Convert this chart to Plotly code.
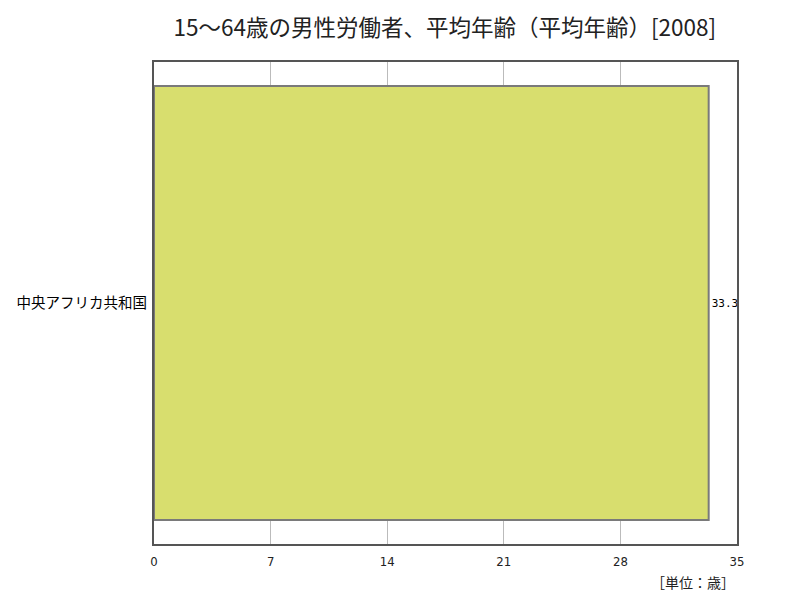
import plotly.graph_objects as go

countries = ["中央アフリカ共和国"]
values = [33.3]
tick_vals = [0, 7, 14, 21, 28, 35]

fig = go.Figure(go.Bar(
    x=values,
    y=countries,
    orientation="h",
    marker=dict(color="#d8de6e", line=dict(color="#7a7a7a", width=2)),
    text=[f"{v:.1f}" for v in values],
    textposition="outside",
    textfont=dict(family="DejaVu Sans Mono", size=11, color="black"),
    cliponaxis=True,
    hoverinfo="x+y",
))

# page body adds ~8px offset, so margins are shifted to compensate
fig.update_layout(
    width=800, height=600,
    margin=dict(l=146, r=71, t=54, b=64),
    paper_bgcolor="white",
    plot_bgcolor="white",
    bargap=0.1,
    showlegend=False,
    font=dict(family="Noto Sans CJK JP", color="black"),
    title=dict(
        text="15～64歳の男性労働者、平均年齢（平均年齢）[2008]",
        x=0.546, xanchor="center", y=0.967, yanchor="middle",
        font=dict(size=22.5, family="Noto Sans CJK JP", color="#222"),
    ),
    xaxis=dict(
        range=[0, 35], tickvals=tick_vals,
        showgrid=True, gridcolor="#bbbbbb", gridwidth=1,
        showline=True, linecolor="#555555", linewidth=2, mirror=True,
        ticks="", zeroline=False, ticklabelstandoff=4, automargin=False,
        tickfont=dict(size=13, family="Liberation Sans Narrow, DejaVu Sans Condensed", color="#222"),
    ),
    yaxis=dict(
        showline=True, linecolor="#555555", linewidth=2, mirror=True,
        ticks="", showgrid=False, ticklabelstandoff=2, automargin=False,
        tickfont=dict(size=14.5, family="Noto Sans CJK JP", color="black"),
    ),
    annotations=[dict(
        text="［単位：歳］", xref="paper", yref="paper",
        x=1.0, y=-0.054, xanchor="right", yanchor="top",
        showarrow=False, font=dict(size=14, family="Noto Sans CJK JP", color="#222"),
    )],
)

fig.write_html("out.html")
